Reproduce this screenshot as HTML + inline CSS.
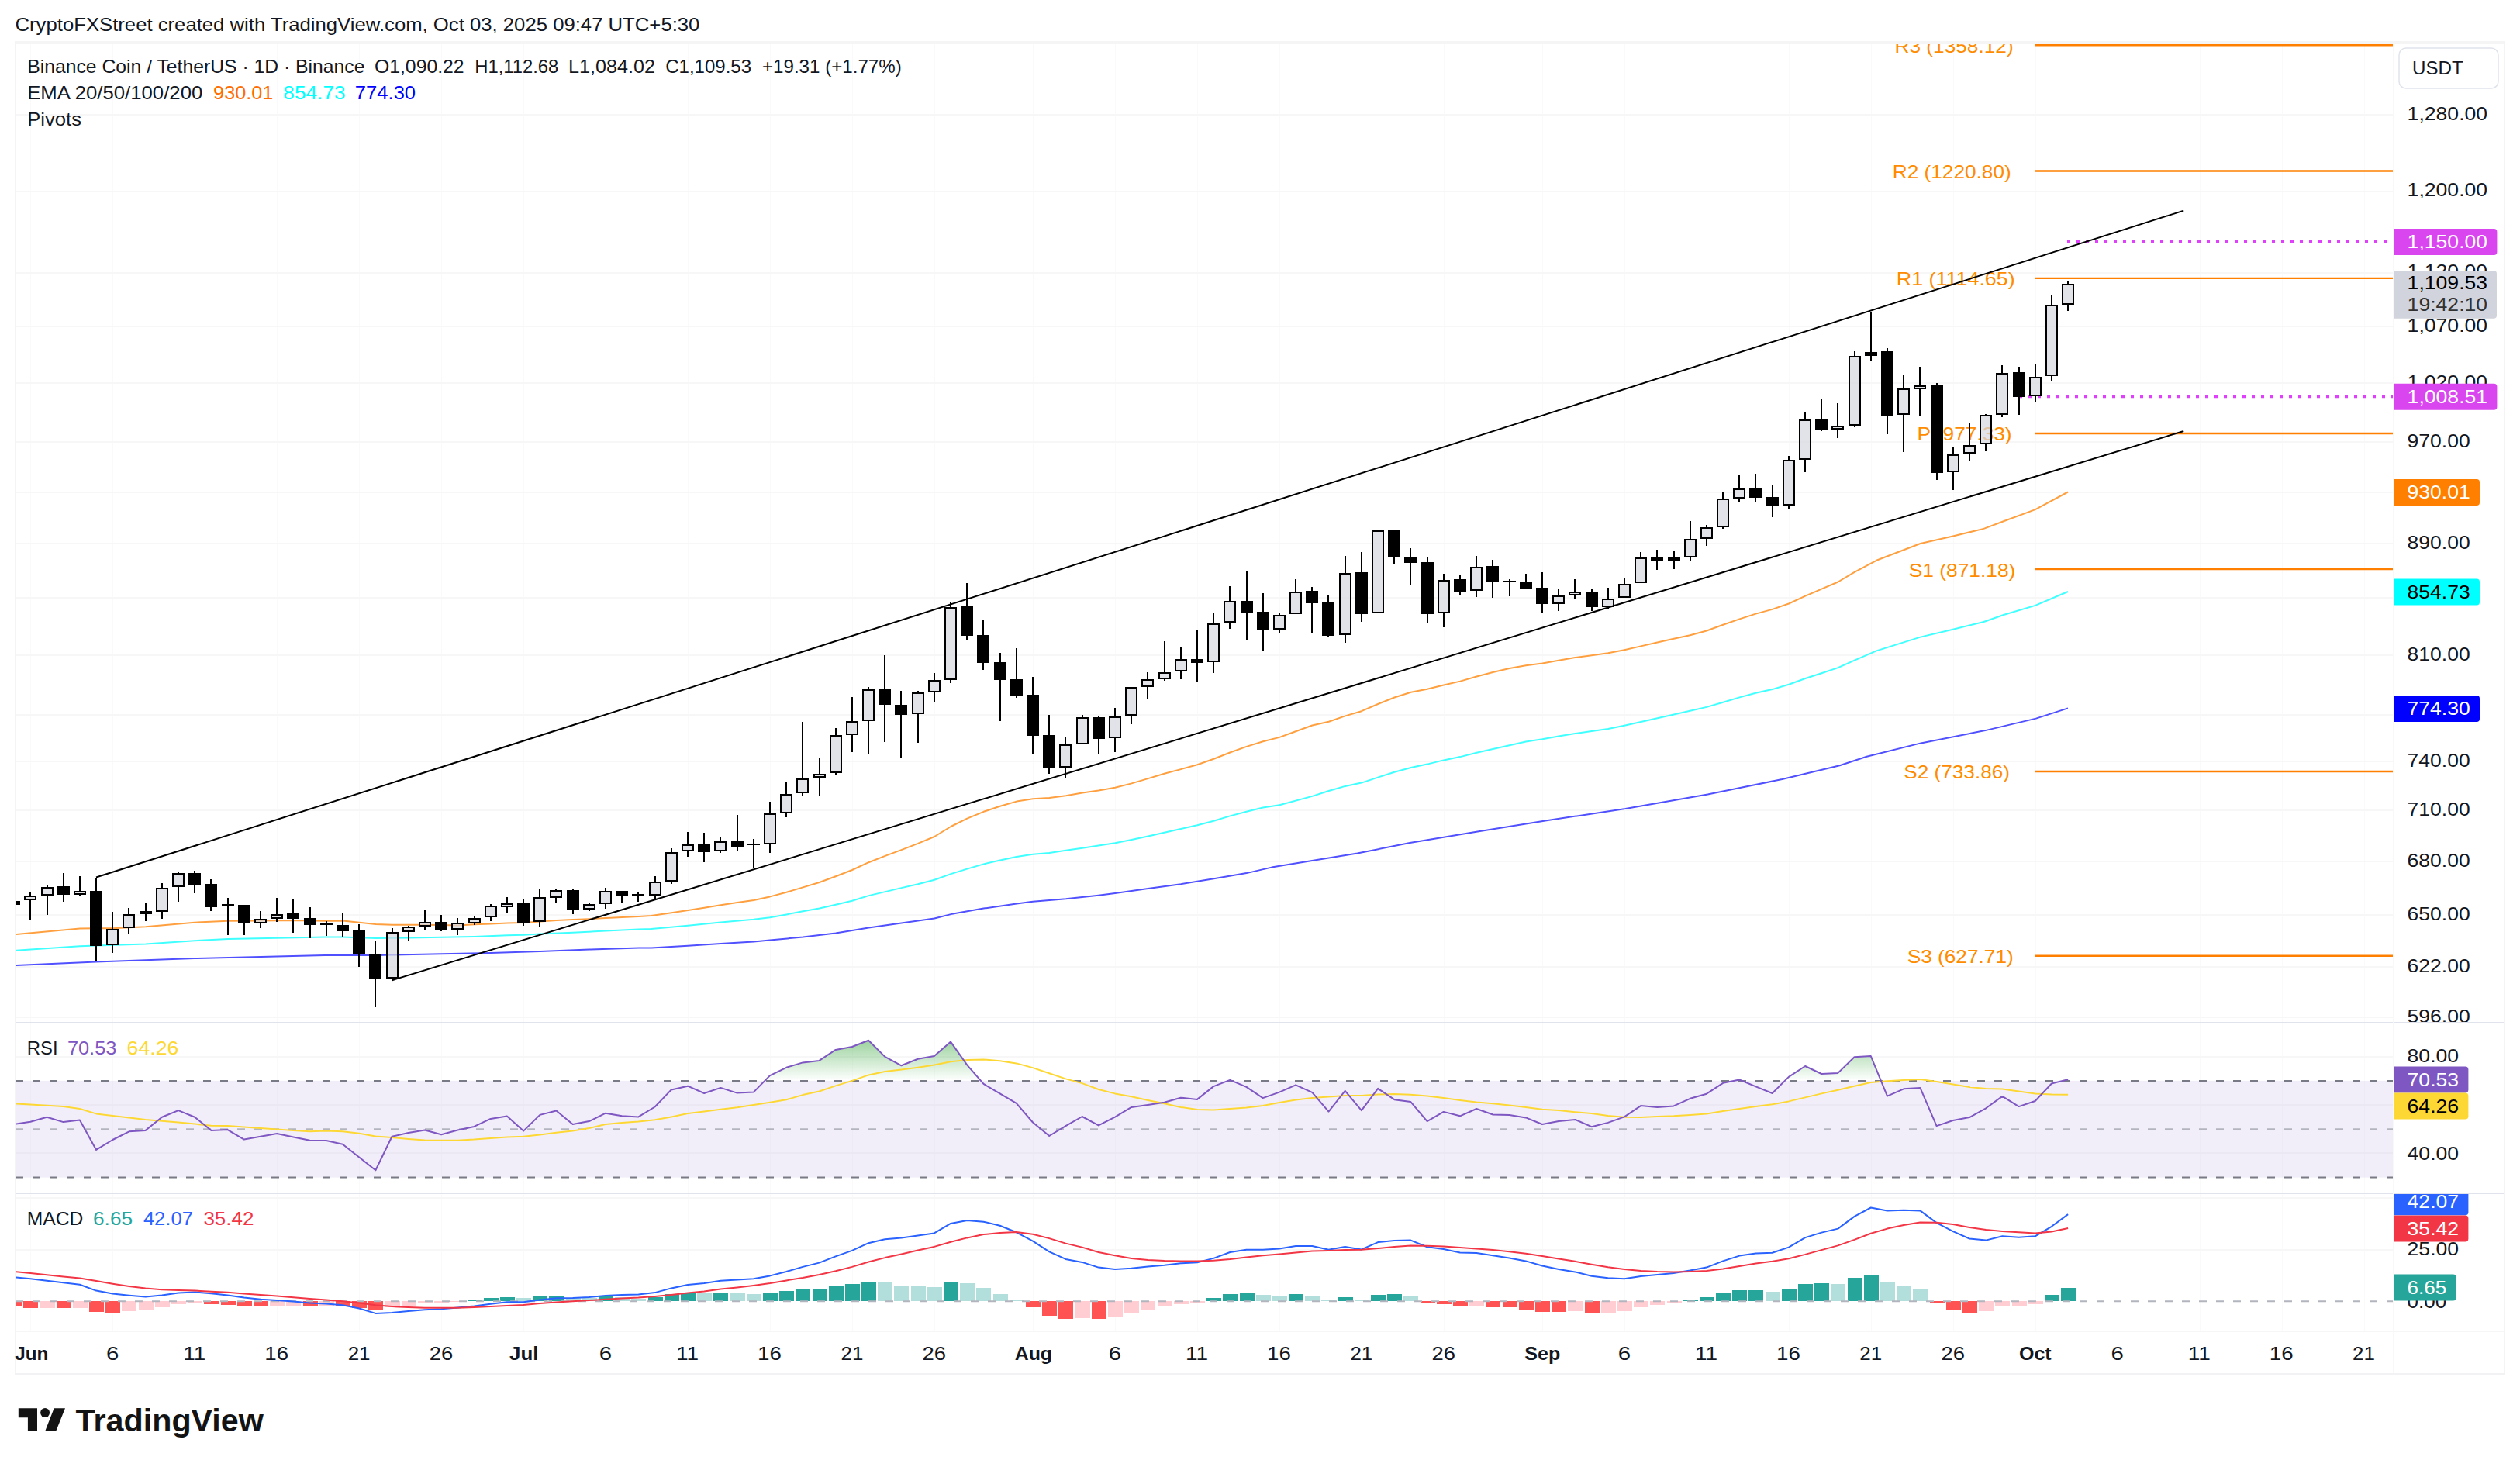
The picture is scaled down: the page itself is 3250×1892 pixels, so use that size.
<!DOCTYPE html>
<html lang="en"><head><meta charset="utf-8"><title>BNBUSDT chart</title>
<style>html,body{margin:0;padding:0;background:#fff}body{width:3250px;height:1892px;overflow:hidden}svg{display:block}text{font-family:"Liberation Sans",sans-serif;white-space:pre}</style>
</head><body>
<svg width="3250" height="1892" viewBox="0 0 3250 1892">
<defs>
<clipPath id="cpMain"><rect x="21" y="54" width="3065" height="1264"/></clipPath>
<clipPath id="cpRsi"><rect x="21" y="1320" width="3065" height="218"/></clipPath>
<clipPath id="cpMacd"><rect x="21" y="1540" width="3065" height="177"/></clipPath>
<clipPath id="cpAxMain"><rect x="3086" y="56" width="144" height="1262"/></clipPath>
<clipPath id="cpAxMacd"><rect x="3086" y="1540" width="144" height="177"/></clipPath>
<linearGradient id="gOB" gradientUnits="userSpaceOnUse" x1="0" y1="1300" x2="0" y2="1393.9"><stop offset="0" stop-color="#4caf50" stop-opacity="1"/><stop offset="1" stop-color="#4caf50" stop-opacity="0"/></linearGradient>
<clipPath id="cpOB"><rect x="21" y="1320" width="3065" height="73.9"/></clipPath>
</defs>
<rect width="3250" height="1892" fill="#fff"/>
<text x="19.50" y="40.2" font-size="23.4" fill="#131722" textLength="882.90" lengthAdjust="spacingAndGlyphs">CryptoFXStreet created with TradingView.com, Oct 03, 2025 09:47 UTC+5:30</text>
<g stroke="#fafafb" stroke-width="1" shape-rendering="crispEdges">
<line x1="39" y1="56" x2="39" y2="1717"/>
<line x1="145" y1="56" x2="145" y2="1717"/>
<line x1="251" y1="56" x2="251" y2="1717"/>
<line x1="357" y1="56" x2="357" y2="1717"/>
<line x1="463" y1="56" x2="463" y2="1717"/>
<line x1="569" y1="56" x2="569" y2="1717"/>
<line x1="675" y1="56" x2="675" y2="1717"/>
<line x1="781" y1="56" x2="781" y2="1717"/>
<line x1="887" y1="56" x2="887" y2="1717"/>
<line x1="993" y1="56" x2="993" y2="1717"/>
<line x1="1099" y1="56" x2="1099" y2="1717"/>
<line x1="1205" y1="56" x2="1205" y2="1717"/>
<line x1="1332" y1="56" x2="1332" y2="1717"/>
<line x1="1438" y1="56" x2="1438" y2="1717"/>
<line x1="1544" y1="56" x2="1544" y2="1717"/>
<line x1="1650" y1="56" x2="1650" y2="1717"/>
<line x1="1756" y1="56" x2="1756" y2="1717"/>
<line x1="1862" y1="56" x2="1862" y2="1717"/>
<line x1="1989" y1="56" x2="1989" y2="1717"/>
<line x1="2095" y1="56" x2="2095" y2="1717"/>
<line x1="2201" y1="56" x2="2201" y2="1717"/>
<line x1="2307" y1="56" x2="2307" y2="1717"/>
<line x1="2413" y1="56" x2="2413" y2="1717"/>
<line x1="2519" y1="56" x2="2519" y2="1717"/>
<line x1="2625" y1="56" x2="2625" y2="1717"/>
<line x1="2731" y1="56" x2="2731" y2="1717"/>
<line x1="2837" y1="56" x2="2837" y2="1717"/>
<line x1="2943" y1="56" x2="2943" y2="1717"/>
<line x1="3049" y1="56" x2="3049" y2="1717"/>
</g>
<g stroke="#f7f7f8" stroke-width="2" shape-rendering="crispEdges">
<line x1="21" y1="148" x2="3086" y2="148"/>
<line x1="21" y1="247" x2="3086" y2="247"/>
<line x1="21" y1="352" x2="3086" y2="352"/>
<line x1="21" y1="421" x2="3086" y2="421"/>
<line x1="21" y1="494" x2="3086" y2="494"/>
<line x1="21" y1="570" x2="3086" y2="570"/>
<line x1="21" y1="635" x2="3086" y2="635"/>
<line x1="21" y1="701" x2="3086" y2="701"/>
<line x1="21" y1="771" x2="3086" y2="771"/>
<line x1="21" y1="845" x2="3086" y2="845"/>
<line x1="21" y1="922" x2="3086" y2="922"/>
<line x1="21" y1="982" x2="3086" y2="982"/>
<line x1="21" y1="1045" x2="3086" y2="1045"/>
<line x1="21" y1="1111" x2="3086" y2="1111"/>
<line x1="21" y1="1180" x2="3086" y2="1180"/>
<line x1="21" y1="1247" x2="3086" y2="1247"/>
<line x1="21" y1="1312" x2="3086" y2="1312"/>
<line x1="21" y1="1363" x2="3086" y2="1363"/>
<line x1="21" y1="1425" x2="3086" y2="1425"/>
<line x1="21" y1="1487" x2="3086" y2="1487"/>
<line x1="21" y1="1545" x2="3086" y2="1545"/>
<line x1="21" y1="1612" x2="3086" y2="1612"/>
</g>
<g clip-path="url(#cpRsi)">
<rect x="21" y="1393.9" width="3065" height="124.7" fill="#7e57c2" fill-opacity="0.1"/>
<g stroke="#ebe8f3" stroke-width="2">
<line x1="21" y1="1425" x2="3086" y2="1425"/>
<line x1="21" y1="1487" x2="3086" y2="1487"/>
</g>
<line x1="21" y1="1393.9" x2="3086" y2="1393.9" stroke="#787b86" stroke-width="2" stroke-dasharray="10 12" stroke-dashoffset="1"/>
<line x1="21" y1="1456.2" x2="3086" y2="1456.2" stroke="#b2b5be" stroke-width="2" stroke-dasharray="10 12" stroke-dashoffset="1"/>
<line x1="21" y1="1518.6" x2="3086" y2="1518.6" stroke="#787b86" stroke-width="2" stroke-dasharray="10 12" stroke-dashoffset="1"/>
<path d="M18.1,1393.9 L18.1,1450.0 L39.3,1446.8 L60.5,1440.7 L81.7,1447.1 L102.9,1444.6 L124.1,1482.9 L145.3,1470.0 L166.5,1459.3 L187.7,1457.9 L208.9,1440.7 L230.0,1432.1 L251.2,1440.7 L272.4,1457.9 L293.6,1457.1 L314.8,1469.6 L336.0,1465.7 L357.2,1462.1 L378.4,1466.4 L399.6,1470.7 L420.8,1471.1 L442.0,1475.7 L463.2,1492.5 L484.4,1509.3 L505.5,1465.7 L526.7,1461.1 L547.9,1457.5 L569.1,1463.2 L590.3,1457.5 L611.5,1452.9 L632.7,1442.9 L653.9,1439.6 L675.1,1458.6 L696.3,1437.9 L717.5,1432.5 L738.7,1450.0 L759.8,1446.1 L781.0,1435.7 L802.2,1439.3 L823.4,1440.4 L844.6,1427.5 L865.8,1405.4 L887.0,1400.7 L908.2,1410.0 L929.4,1402.9 L950.6,1409.6 L971.8,1408.6 L993.0,1387.1 L1014.2,1376.8 L1035.3,1370.4 L1056.5,1367.9 L1077.7,1353.9 L1098.9,1350.0 L1120.1,1341.8 L1141.3,1362.9 L1162.5,1374.3 L1183.7,1365.7 L1204.9,1362.1 L1226.1,1343.6 L1247.3,1373.6 L1268.5,1397.9 L1289.6,1410.4 L1310.8,1422.9 L1332.0,1447.5 L1353.2,1465.0 L1374.4,1452.1 L1395.6,1440.0 L1416.8,1451.4 L1438.0,1440.7 L1459.2,1427.9 L1480.4,1425.0 L1501.6,1421.8 L1522.8,1415.7 L1544.0,1417.9 L1565.1,1401.1 L1586.3,1392.9 L1607.5,1401.8 L1628.7,1416.1 L1649.9,1408.6 L1671.1,1399.3 L1692.3,1408.9 L1713.5,1433.6 L1734.7,1406.8 L1755.9,1432.1 L1777.1,1403.9 L1798.3,1418.2 L1819.4,1421.1 L1840.6,1446.1 L1861.8,1433.9 L1883.0,1439.3 L1904.2,1430.0 L1925.4,1437.5 L1946.6,1437.9 L1967.8,1441.4 L1989.0,1450.0 L2010.2,1446.1 L2031.4,1443.9 L2052.6,1453.2 L2073.8,1447.9 L2094.9,1440.4 L2116.1,1426.1 L2137.3,1427.9 L2158.5,1426.4 L2179.7,1416.8 L2200.9,1410.7 L2222.1,1396.8 L2243.3,1392.5 L2264.5,1401.4 L2285.7,1410.0 L2306.9,1388.9 L2328.1,1375.0 L2349.2,1385.0 L2370.4,1383.9 L2391.6,1363.2 L2412.8,1362.1 L2434.0,1413.6 L2455.2,1404.3 L2476.4,1402.9 L2497.6,1452.1 L2518.8,1445.0 L2540.0,1441.1 L2561.2,1429.3 L2582.4,1413.9 L2603.6,1427.1 L2624.7,1420.0 L2645.9,1397.5 L2667.1,1392.1 L2667.1,1393.9 Z" fill="url(#gOB)" clip-path="url(#cpOB)"/>
<polyline fill="none" stroke="#fdd835" stroke-width="2" stroke-linejoin="round" points="18.1,1423.2 39.3,1424.6 60.5,1425.7 81.7,1427.1 102.9,1430.0 124.1,1436.4 145.3,1438.9 166.5,1441.4 187.7,1443.9 208.9,1445.7 230.0,1447.5 251.2,1449.6 272.4,1451.8 293.6,1452.1 314.8,1453.6 336.0,1455.0 357.2,1456.4 378.4,1457.9 399.6,1459.3 420.8,1458.6 442.0,1459.3 463.2,1461.8 484.4,1465.4 505.5,1467.1 526.7,1468.9 547.9,1470.4 569.1,1470.7 590.3,1470.7 611.5,1469.6 632.7,1467.9 653.9,1466.4 675.1,1465.7 696.3,1463.6 717.5,1460.7 738.7,1458.6 759.8,1455.0 781.0,1450.0 802.2,1447.9 823.4,1446.4 844.6,1444.3 865.8,1440.4 887.0,1436.1 908.2,1433.6 929.4,1430.7 950.6,1428.2 971.8,1425.0 993.0,1421.8 1014.2,1418.2 1035.3,1412.1 1056.5,1407.5 1077.7,1400.4 1098.9,1393.9 1120.1,1386.4 1141.3,1382.1 1162.5,1379.6 1183.7,1376.8 1204.9,1373.6 1226.1,1369.3 1247.3,1367.1 1268.5,1366.4 1289.6,1368.2 1310.8,1371.4 1332.0,1377.1 1353.2,1384.3 1374.4,1391.4 1395.6,1397.1 1416.8,1405.0 1438.0,1410.4 1459.2,1414.3 1480.4,1418.9 1501.6,1423.2 1522.8,1427.9 1544.0,1431.1 1565.1,1431.4 1586.3,1430.0 1607.5,1428.6 1628.7,1426.1 1649.9,1422.1 1671.1,1418.6 1692.3,1416.1 1713.5,1414.6 1734.7,1412.9 1755.9,1412.9 1777.1,1411.4 1798.3,1411.1 1819.4,1411.8 1840.6,1413.6 1861.8,1416.1 1883.0,1418.9 1904.2,1421.4 1925.4,1423.2 1946.6,1425.4 1967.8,1427.9 1989.0,1430.7 2010.2,1432.1 2031.4,1434.3 2052.6,1436.1 2073.8,1438.9 2094.9,1440.7 2116.1,1441.1 2137.3,1440.0 2158.5,1439.3 2179.7,1437.9 2200.9,1436.4 2222.1,1432.9 2243.3,1430.0 2264.5,1427.1 2285.7,1424.3 2306.9,1420.4 2328.1,1415.4 2349.2,1410.4 2370.4,1405.7 2391.6,1400.7 2412.8,1396.1 2434.0,1394.3 2455.2,1392.9 2476.4,1392.1 2497.6,1395.0 2518.8,1398.6 2540.0,1402.1 2561.2,1403.9 2582.4,1404.6 2603.6,1407.5 2624.7,1410.4 2645.9,1411.4 2667.1,1411.8"/>
<polyline fill="none" stroke="#7e57c2" stroke-width="2" stroke-linejoin="round" points="18.1,1450.0 39.3,1446.8 60.5,1440.7 81.7,1447.1 102.9,1444.6 124.1,1482.9 145.3,1470.0 166.5,1459.3 187.7,1457.9 208.9,1440.7 230.0,1432.1 251.2,1440.7 272.4,1457.9 293.6,1457.1 314.8,1469.6 336.0,1465.7 357.2,1462.1 378.4,1466.4 399.6,1470.7 420.8,1471.1 442.0,1475.7 463.2,1492.5 484.4,1509.3 505.5,1465.7 526.7,1461.1 547.9,1457.5 569.1,1463.2 590.3,1457.5 611.5,1452.9 632.7,1442.9 653.9,1439.6 675.1,1458.6 696.3,1437.9 717.5,1432.5 738.7,1450.0 759.8,1446.1 781.0,1435.7 802.2,1439.3 823.4,1440.4 844.6,1427.5 865.8,1405.4 887.0,1400.7 908.2,1410.0 929.4,1402.9 950.6,1409.6 971.8,1408.6 993.0,1387.1 1014.2,1376.8 1035.3,1370.4 1056.5,1367.9 1077.7,1353.9 1098.9,1350.0 1120.1,1341.8 1141.3,1362.9 1162.5,1374.3 1183.7,1365.7 1204.9,1362.1 1226.1,1343.6 1247.3,1373.6 1268.5,1397.9 1289.6,1410.4 1310.8,1422.9 1332.0,1447.5 1353.2,1465.0 1374.4,1452.1 1395.6,1440.0 1416.8,1451.4 1438.0,1440.7 1459.2,1427.9 1480.4,1425.0 1501.6,1421.8 1522.8,1415.7 1544.0,1417.9 1565.1,1401.1 1586.3,1392.9 1607.5,1401.8 1628.7,1416.1 1649.9,1408.6 1671.1,1399.3 1692.3,1408.9 1713.5,1433.6 1734.7,1406.8 1755.9,1432.1 1777.1,1403.9 1798.3,1418.2 1819.4,1421.1 1840.6,1446.1 1861.8,1433.9 1883.0,1439.3 1904.2,1430.0 1925.4,1437.5 1946.6,1437.9 1967.8,1441.4 1989.0,1450.0 2010.2,1446.1 2031.4,1443.9 2052.6,1453.2 2073.8,1447.9 2094.9,1440.4 2116.1,1426.1 2137.3,1427.9 2158.5,1426.4 2179.7,1416.8 2200.9,1410.7 2222.1,1396.8 2243.3,1392.5 2264.5,1401.4 2285.7,1410.0 2306.9,1388.9 2328.1,1375.0 2349.2,1385.0 2370.4,1383.9 2391.6,1363.2 2412.8,1362.1 2434.0,1413.6 2455.2,1404.3 2476.4,1402.9 2497.6,1452.1 2518.8,1445.0 2540.0,1441.1 2561.2,1429.3 2582.4,1413.9 2603.6,1427.1 2624.7,1420.0 2645.9,1397.5 2667.1,1392.1"/>
</g>
<g clip-path="url(#cpMacd)">
<g shape-rendering="crispEdges">
<rect x="9" y="1678.2" width="19" height="6.4" fill="#ff5252"/>
<rect x="30" y="1678.2" width="19" height="8.6" fill="#ff5252"/>
<rect x="52" y="1678.2" width="19" height="8.6" fill="#ffcdd2"/>
<rect x="73" y="1678.2" width="19" height="8.6" fill="#ff5252"/>
<rect x="94" y="1678.2" width="19" height="8.6" fill="#ffcdd2"/>
<rect x="115" y="1678.2" width="19" height="13.6" fill="#ff5252"/>
<rect x="136" y="1678.2" width="19" height="14.7" fill="#ff5252"/>
<rect x="157" y="1678.2" width="19" height="13.2" fill="#ffcdd2"/>
<rect x="179" y="1678.2" width="19" height="11.8" fill="#ffcdd2"/>
<rect x="200" y="1678.2" width="19" height="7.9" fill="#ffcdd2"/>
<rect x="221" y="1678.2" width="19" height="3.6" fill="#ffcdd2"/>
<rect x="242" y="1678.2" width="19" height="2.2" fill="#ffcdd2"/>
<rect x="263" y="1678.2" width="19" height="3.6" fill="#ff5252"/>
<rect x="285" y="1678.2" width="19" height="4.7" fill="#ff5252"/>
<rect x="306" y="1678.2" width="19" height="6.4" fill="#ff5252"/>
<rect x="327" y="1678.2" width="19" height="6.4" fill="#ff5252"/>
<rect x="348" y="1678.2" width="19" height="6.1" fill="#ffcdd2"/>
<rect x="369" y="1678.2" width="19" height="6.1" fill="#ffcdd2"/>
<rect x="391" y="1678.2" width="19" height="6.4" fill="#ff5252"/>
<rect x="412" y="1678.2" width="19" height="6.1" fill="#ffcdd2"/>
<rect x="433" y="1678.2" width="19" height="6.4" fill="#ff5252"/>
<rect x="454" y="1678.2" width="19" height="8.9" fill="#ff5252"/>
<rect x="475" y="1678.2" width="19" height="11.4" fill="#ff5252"/>
<rect x="497" y="1678.2" width="19" height="8.2" fill="#ffcdd2"/>
<rect x="518" y="1678.2" width="19" height="5.7" fill="#ffcdd2"/>
<rect x="539" y="1678.2" width="19" height="2.9" fill="#ffcdd2"/>
<rect x="560" y="1678.2" width="19" height="1.8" fill="#ffcdd2"/>
<rect x="581" y="1678.2" width="19" height="1.1" fill="#ffcdd2"/>
<rect x="603" y="1676.1" width="19" height="2.1" fill="#26a69a"/>
<rect x="624" y="1674.3" width="19" height="3.9" fill="#26a69a"/>
<rect x="645" y="1673.2" width="19" height="5.0" fill="#26a69a"/>
<rect x="666" y="1674.3" width="19" height="3.9" fill="#b2dfdb"/>
<rect x="687" y="1672.1" width="19" height="6.1" fill="#26a69a"/>
<rect x="708" y="1671.1" width="19" height="7.1" fill="#26a69a"/>
<rect x="730" y="1673.6" width="19" height="4.6" fill="#b2dfdb"/>
<rect x="751" y="1673.9" width="19" height="4.3" fill="#b2dfdb"/>
<rect x="772" y="1671.4" width="19" height="6.8" fill="#26a69a"/>
<rect x="793" y="1673.2" width="19" height="5.0" fill="#b2dfdb"/>
<rect x="814" y="1675.0" width="19" height="3.2" fill="#b2dfdb"/>
<rect x="836" y="1672.5" width="19" height="5.7" fill="#26a69a"/>
<rect x="857" y="1669.3" width="19" height="8.9" fill="#26a69a"/>
<rect x="878" y="1667.5" width="19" height="10.7" fill="#26a69a"/>
<rect x="899" y="1667.5" width="19" height="10.7" fill="#b2dfdb"/>
<rect x="920" y="1667.1" width="19" height="11.1" fill="#26a69a"/>
<rect x="942" y="1668.2" width="19" height="10.0" fill="#b2dfdb"/>
<rect x="963" y="1669.3" width="19" height="8.9" fill="#b2dfdb"/>
<rect x="984" y="1667.1" width="19" height="11.1" fill="#26a69a"/>
<rect x="1005" y="1665.4" width="19" height="12.8" fill="#26a69a"/>
<rect x="1026" y="1663.2" width="19" height="15.0" fill="#26a69a"/>
<rect x="1048" y="1662.1" width="19" height="16.1" fill="#26a69a"/>
<rect x="1069" y="1658.2" width="19" height="20.0" fill="#26a69a"/>
<rect x="1090" y="1656.1" width="19" height="22.1" fill="#26a69a"/>
<rect x="1111" y="1653.2" width="19" height="25.0" fill="#26a69a"/>
<rect x="1132" y="1654.3" width="19" height="23.9" fill="#b2dfdb"/>
<rect x="1153" y="1658.2" width="19" height="20.0" fill="#b2dfdb"/>
<rect x="1175" y="1659.3" width="19" height="18.9" fill="#b2dfdb"/>
<rect x="1196" y="1660.4" width="19" height="17.8" fill="#b2dfdb"/>
<rect x="1217" y="1654.3" width="19" height="23.9" fill="#26a69a"/>
<rect x="1238" y="1655.4" width="19" height="22.8" fill="#b2dfdb"/>
<rect x="1259" y="1661.4" width="19" height="16.8" fill="#b2dfdb"/>
<rect x="1281" y="1668.6" width="19" height="9.6" fill="#b2dfdb"/>
<rect x="1302" y="1676.1" width="19" height="2.1" fill="#b2dfdb"/>
<rect x="1323" y="1678.2" width="19" height="8.2" fill="#ff5252"/>
<rect x="1344" y="1678.2" width="19" height="18.6" fill="#ff5252"/>
<rect x="1365" y="1678.2" width="19" height="22.5" fill="#ff5252"/>
<rect x="1387" y="1678.2" width="19" height="21.4" fill="#ffcdd2"/>
<rect x="1408" y="1678.2" width="19" height="22.5" fill="#ff5252"/>
<rect x="1429" y="1678.2" width="19" height="20.4" fill="#ffcdd2"/>
<rect x="1450" y="1678.2" width="19" height="14.7" fill="#ffcdd2"/>
<rect x="1471" y="1678.2" width="19" height="10.7" fill="#ffcdd2"/>
<rect x="1493" y="1678.2" width="19" height="6.4" fill="#ffcdd2"/>
<rect x="1514" y="1678.2" width="19" height="3.6" fill="#ffcdd2"/>
<rect x="1535" y="1678.2" width="19" height="1.8" fill="#ffcdd2"/>
<rect x="1556" y="1674.3" width="19" height="3.9" fill="#26a69a"/>
<rect x="1577" y="1669.3" width="19" height="8.9" fill="#26a69a"/>
<rect x="1599" y="1668.2" width="19" height="10.0" fill="#26a69a"/>
<rect x="1620" y="1670.4" width="19" height="7.8" fill="#b2dfdb"/>
<rect x="1641" y="1671.4" width="19" height="6.8" fill="#b2dfdb"/>
<rect x="1662" y="1669.3" width="19" height="8.9" fill="#26a69a"/>
<rect x="1683" y="1671.4" width="19" height="6.8" fill="#b2dfdb"/>
<rect x="1704" y="1677.1" width="19" height="1.1" fill="#b2dfdb"/>
<rect x="1726" y="1673.2" width="19" height="5.0" fill="#26a69a"/>
<rect x="1747" y="1677.1" width="19" height="1.1" fill="#b2dfdb"/>
<rect x="1768" y="1670.4" width="19" height="7.8" fill="#26a69a"/>
<rect x="1789" y="1669.3" width="19" height="8.9" fill="#26a69a"/>
<rect x="1810" y="1671.1" width="19" height="7.1" fill="#b2dfdb"/>
<rect x="1832" y="1678.2" width="19" height="1.4" fill="#ff5252"/>
<rect x="1853" y="1678.2" width="19" height="3.6" fill="#ff5252"/>
<rect x="1874" y="1678.2" width="19" height="6.4" fill="#ff5252"/>
<rect x="1895" y="1678.2" width="19" height="5.4" fill="#ffcdd2"/>
<rect x="1916" y="1678.2" width="19" height="7.5" fill="#ff5252"/>
<rect x="1938" y="1678.2" width="19" height="8.2" fill="#ff5252"/>
<rect x="1959" y="1678.2" width="19" height="10.4" fill="#ff5252"/>
<rect x="1980" y="1678.2" width="19" height="13.6" fill="#ff5252"/>
<rect x="2001" y="1678.2" width="19" height="13.6" fill="#ff5252"/>
<rect x="2022" y="1678.2" width="19" height="13.2" fill="#ffcdd2"/>
<rect x="2044" y="1678.2" width="19" height="15.4" fill="#ff5252"/>
<rect x="2065" y="1678.2" width="19" height="14.3" fill="#ffcdd2"/>
<rect x="2086" y="1678.2" width="19" height="12.5" fill="#ffcdd2"/>
<rect x="2107" y="1678.2" width="19" height="7.5" fill="#ffcdd2"/>
<rect x="2128" y="1678.2" width="19" height="4.7" fill="#ffcdd2"/>
<rect x="2150" y="1678.2" width="19" height="2.5" fill="#ffcdd2"/>
<rect x="2171" y="1676.1" width="19" height="2.1" fill="#26a69a"/>
<rect x="2192" y="1673.2" width="19" height="5.0" fill="#26a69a"/>
<rect x="2213" y="1668.2" width="19" height="10.0" fill="#26a69a"/>
<rect x="2234" y="1664.3" width="19" height="13.9" fill="#26a69a"/>
<rect x="2255" y="1664.3" width="19" height="13.9" fill="#26a69a"/>
<rect x="2277" y="1666.4" width="19" height="11.8" fill="#b2dfdb"/>
<rect x="2298" y="1663.2" width="19" height="15.0" fill="#26a69a"/>
<rect x="2319" y="1656.1" width="19" height="22.1" fill="#26a69a"/>
<rect x="2340" y="1655.0" width="19" height="23.2" fill="#26a69a"/>
<rect x="2361" y="1656.1" width="19" height="22.1" fill="#b2dfdb"/>
<rect x="2383" y="1648.2" width="19" height="30.0" fill="#26a69a"/>
<rect x="2404" y="1644.3" width="19" height="33.9" fill="#26a69a"/>
<rect x="2425" y="1654.3" width="19" height="23.9" fill="#b2dfdb"/>
<rect x="2446" y="1657.9" width="19" height="20.3" fill="#b2dfdb"/>
<rect x="2467" y="1662.1" width="19" height="16.1" fill="#b2dfdb"/>
<rect x="2489" y="1678.2" width="19" height="1.4" fill="#ff5252"/>
<rect x="2510" y="1678.2" width="19" height="10.4" fill="#ff5252"/>
<rect x="2531" y="1678.2" width="19" height="14.3" fill="#ff5252"/>
<rect x="2552" y="1678.2" width="19" height="13.2" fill="#ffcdd2"/>
<rect x="2573" y="1678.2" width="19" height="6.4" fill="#ffcdd2"/>
<rect x="2595" y="1678.2" width="19" height="6.4" fill="#ffcdd2"/>
<rect x="2616" y="1678.2" width="19" height="3.6" fill="#ffcdd2"/>
<rect x="2637" y="1670.4" width="19" height="7.8" fill="#26a69a"/>
<rect x="2658" y="1660.5" width="19" height="17.7" fill="#26a69a"/>
</g>
<line x1="21" y1="1678.2" x2="3086" y2="1678.2" stroke="#b2b5be" stroke-width="2" stroke-dasharray="10 12" stroke-dashoffset="1"/>
<polyline fill="none" stroke="#2962ff" stroke-width="2" stroke-linejoin="round" points="18.1,1647.1 39.3,1649.3 60.5,1651.8 81.7,1654.3 102.9,1656.8 124.1,1664.6 145.3,1668.6 166.5,1670.7 187.7,1672.5 208.9,1670.4 230.0,1667.5 251.2,1666.4 272.4,1668.2 293.6,1670.4 314.8,1673.6 336.0,1675.7 357.2,1677.1 378.4,1678.6 399.6,1680.4 420.8,1681.4 442.0,1683.2 463.2,1687.5 484.4,1693.9 505.5,1692.9 526.7,1691.1 547.9,1689.3 569.1,1688.2 590.3,1686.4 611.5,1684.6 632.7,1681.8 653.9,1679.3 675.1,1679.3 696.3,1676.4 717.5,1674.3 738.7,1673.9 759.8,1672.9 781.0,1671.1 802.2,1670.0 823.4,1669.6 844.6,1667.1 865.8,1661.4 887.0,1657.1 908.2,1655.0 929.4,1651.8 950.6,1650.4 971.8,1649.3 993.0,1645.4 1014.2,1640.0 1035.3,1633.9 1056.5,1628.6 1077.7,1620.4 1098.9,1612.9 1120.1,1603.2 1141.3,1598.2 1162.5,1596.4 1183.7,1593.6 1204.9,1590.4 1226.1,1577.9 1247.3,1573.9 1268.5,1575.7 1289.6,1580.7 1310.8,1589.3 1332.0,1600.7 1353.2,1614.3 1374.4,1623.9 1395.6,1627.9 1416.8,1634.6 1438.0,1637.1 1459.2,1635.7 1480.4,1633.6 1501.6,1631.8 1522.8,1629.3 1544.0,1628.2 1565.1,1622.9 1586.3,1615.0 1607.5,1611.8 1628.7,1611.8 1649.9,1610.4 1671.1,1607.1 1692.3,1607.1 1713.5,1611.8 1734.7,1607.9 1755.9,1611.4 1777.1,1602.1 1798.3,1600.0 1819.4,1599.6 1840.6,1608.2 1861.8,1611.1 1883.0,1615.4 1904.2,1616.1 1925.4,1619.3 1946.6,1622.5 1967.8,1626.4 1989.0,1632.5 2010.2,1637.1 2031.4,1640.4 2052.6,1645.7 2073.8,1648.2 2094.9,1649.3 2116.1,1646.1 2137.3,1643.9 2158.5,1642.1 2179.7,1638.6 2200.9,1634.6 2222.1,1626.4 2243.3,1619.6 2264.5,1616.4 2285.7,1615.7 2306.9,1608.6 2328.1,1596.1 2349.2,1589.6 2370.4,1584.6 2391.6,1568.9 2412.8,1557.5 2434.0,1561.4 2455.2,1560.7 2476.4,1561.4 2497.6,1577.1 2518.8,1588.2 2540.0,1597.5 2561.2,1599.6 2582.4,1594.3 2603.6,1595.7 2624.7,1594.3 2645.9,1581.8 2667.1,1566.1"/>
<polyline fill="none" stroke="#f23645" stroke-width="2" stroke-linejoin="round" points="18.1,1640.0 39.3,1642.1 60.5,1644.3 81.7,1646.4 102.9,1648.6 124.1,1652.1 145.3,1655.7 166.5,1658.9 187.7,1661.4 208.9,1663.2 230.0,1663.9 251.2,1664.6 272.4,1665.7 293.6,1666.8 314.8,1668.6 336.0,1670.0 357.2,1671.4 378.4,1673.2 399.6,1675.0 420.8,1676.4 442.0,1678.2 463.2,1680.4 484.4,1683.2 505.5,1685.0 526.7,1686.1 547.9,1686.8 569.1,1686.8 590.3,1686.8 611.5,1686.1 632.7,1685.0 653.9,1683.9 675.1,1682.9 696.3,1681.1 717.5,1679.6 738.7,1678.2 759.8,1677.1 781.0,1675.7 802.2,1674.6 823.4,1673.6 844.6,1672.1 865.8,1670.0 887.0,1667.5 908.2,1665.4 929.4,1662.5 950.6,1660.4 971.8,1657.9 993.0,1655.0 1014.2,1651.4 1035.3,1647.9 1056.5,1643.9 1077.7,1639.3 1098.9,1633.9 1120.1,1627.5 1141.3,1622.1 1162.5,1617.5 1183.7,1612.5 1204.9,1607.9 1226.1,1601.8 1247.3,1596.4 1268.5,1592.1 1289.6,1590.0 1310.8,1588.9 1332.0,1591.8 1353.2,1597.1 1374.4,1603.6 1395.6,1608.6 1416.8,1615.0 1438.0,1619.3 1459.2,1622.9 1480.4,1625.0 1501.6,1626.1 1522.8,1626.4 1544.0,1626.4 1565.1,1625.7 1586.3,1623.9 1607.5,1621.4 1628.7,1619.3 1649.9,1617.5 1671.1,1615.4 1692.3,1613.6 1713.5,1612.9 1734.7,1612.1 1755.9,1611.8 1777.1,1610.0 1798.3,1607.9 1819.4,1606.4 1840.6,1606.8 1861.8,1607.5 1883.0,1608.9 1904.2,1610.4 1925.4,1612.1 1946.6,1614.3 1967.8,1616.8 1989.0,1620.0 2010.2,1623.6 2031.4,1626.8 2052.6,1630.7 2073.8,1634.3 2094.9,1637.1 2116.1,1638.9 2137.3,1640.0 2158.5,1640.4 2179.7,1640.0 2200.9,1638.9 2222.1,1636.4 2243.3,1632.9 2264.5,1629.6 2285.7,1626.8 2306.9,1623.2 2328.1,1617.9 2349.2,1612.1 2370.4,1606.4 2391.6,1598.9 2412.8,1590.7 2434.0,1584.6 2455.2,1580.0 2476.4,1576.4 2497.6,1576.8 2518.8,1578.9 2540.0,1582.9 2561.2,1586.1 2582.4,1587.9 2603.6,1589.3 2624.7,1590.4 2645.9,1588.6 2667.1,1583.9"/>
</g>
<g clip-path="url(#cpMain)">
<g stroke="#ff8000" stroke-width="2.4">
<line x1="2625" y1="58.2" x2="3086" y2="58.2"/>
<line x1="2625" y1="220.5" x2="3086" y2="220.5"/>
<line x1="2625" y1="358.9" x2="3086" y2="358.9"/>
<line x1="2625" y1="559.0" x2="3086" y2="559.0"/>
<line x1="2625" y1="734.0" x2="3086" y2="734.0"/>
<line x1="2625" y1="995.0" x2="3086" y2="995.0"/>
<line x1="2625" y1="1232.8" x2="3086" y2="1232.8"/>
</g>
<text x="2443.55" y="68.0" font-size="23.7" fill="#ff8c00" textLength="153.08" lengthAdjust="spacingAndGlyphs">R3 (1358.12)</text>
<text x="2440.75" y="229.9" font-size="23.7" fill="#ff8c00" textLength="152.98" lengthAdjust="spacingAndGlyphs">R2 (1220.80)</text>
<text x="2445.75" y="367.9" font-size="23.7" fill="#ff8c00" textLength="152.98" lengthAdjust="spacingAndGlyphs">R1 (1114.65)</text>
<text x="2472.45" y="567.9" font-size="23.7" fill="#ff8c00" textLength="122.17" lengthAdjust="spacingAndGlyphs">P (977.33)</text>
<text x="2461.70" y="744.2" font-size="23.7" fill="#ff8c00" textLength="137.63" lengthAdjust="spacingAndGlyphs">S1 (871.18)</text>
<text x="2455.21" y="1003.9" font-size="23.7" fill="#ff8c00" textLength="136.81" lengthAdjust="spacingAndGlyphs">S2 (733.86)</text>
<text x="2459.71" y="1242.0" font-size="23.7" fill="#ff8c00" textLength="137.02" lengthAdjust="spacingAndGlyphs">S3 (627.71)</text>
<polyline fill="none" stroke="#5050ff" stroke-width="2" stroke-linejoin="round" points="20.6,1245.0 124.0,1240.6 250.9,1236.1 356.9,1233.4 419.1,1232.0 484.6,1231.9 505.7,1231.5 569.3,1230.3 632.9,1228.9 696.4,1227.0 760.1,1224.6 823.7,1222.4 840.0,1222.5 887.3,1219.7 929.5,1216.9 972.1,1214.4 993.0,1212.5 1035.6,1208.5 1077.8,1203.4 1099.0,1200.0 1120.3,1196.6 1162.5,1190.5 1205.1,1184.5 1226.3,1179.1 1268.6,1171.6 1311.1,1165.4 1332.1,1162.8 1374.6,1159.3 1416.8,1154.8 1438.1,1152.1 1480.6,1146.1 1522.9,1140.2 1565.4,1133.3 1607.6,1126.1 1640.0,1118.6 1750.6,1100.6 1818.3,1086.9 1905.6,1072.6 1992.9,1058.5 2096.3,1043.0 2202.4,1024.5 2298.4,1005.0 2372.6,987.3 2407.5,975.8 2477.4,958.4 2560.3,942.1 2625.8,926.6 2667.0,913.4"/>
<polyline fill="none" stroke="#40ffff" stroke-width="2" stroke-linejoin="round" points="20.6,1225.8 103.0,1220.3 124.0,1219.5 187.9,1217.4 250.9,1213.2 294.0,1211.0 356.9,1209.7 419.1,1208.6 442.2,1208.6 463.3,1209.2 484.6,1210.0 505.7,1209.7 526.9,1209.4 569.3,1208.8 611.7,1207.9 654.2,1206.3 675.3,1205.7 696.4,1204.6 738.8,1202.7 781.3,1200.5 823.7,1198.4 840.0,1198.0 887.3,1193.7 929.5,1189.5 972.1,1185.8 993.0,1183.3 1014.3,1179.4 1035.6,1175.3 1056.8,1171.4 1077.8,1166.7 1099.0,1161.7 1120.3,1155.1 1141.6,1150.1 1162.5,1145.1 1183.8,1140.3 1205.1,1134.7 1226.3,1127.1 1247.3,1120.6 1268.6,1114.4 1289.8,1109.5 1311.1,1104.9 1332.1,1101.7 1353.3,1099.9 1374.6,1096.8 1395.9,1093.7 1416.8,1090.5 1438.1,1087.2 1459.4,1083.1 1480.6,1078.4 1501.6,1073.7 1522.9,1068.9 1544.1,1064.3 1565.4,1058.7 1586.3,1052.4 1607.6,1046.7 1628.9,1041.5 1650.2,1038.2 1692.4,1026.9 1713.7,1020.0 1734.9,1013.9 1755.9,1009.6 1777.1,1002.6 1798.4,995.7 1819.7,990.0 1840.6,985.6 1861.9,980.4 1883.2,976.1 1904.4,970.8 1925.4,966.0 1946.7,961.3 1967.9,956.6 1989.2,953.3 2010.2,949.5 2031.4,946.1 2052.7,942.9 2074.0,939.9 2094.9,935.8 2116.2,931.1 2137.5,926.3 2158.7,921.6 2179.7,916.8 2201.0,911.9 2222.2,905.7 2243.5,899.4 2264.4,893.8 2285.7,889.1 2307.0,882.7 2328.3,875.0 2349.2,868.2 2370.5,861.1 2391.7,851.6 2420.0,839.4 2476.7,821.6 2517.6,812.0 2558.4,802.0 2584.0,793.0 2624.9,780.9 2667.0,763.0"/>
<polyline fill="none" stroke="#ffa040" stroke-width="2" stroke-linejoin="round" points="20.6,1205.0 103.0,1197.4 124.0,1197.3 144.9,1197.2 187.9,1195.2 250.9,1189.7 294.0,1187.8 336.0,1187.4 378.0,1187.0 420.8,1187.8 442.2,1187.6 463.3,1189.7 484.6,1192.0 505.7,1192.7 526.9,1192.8 548.2,1192.7 569.3,1193.1 590.4,1193.4 611.7,1192.3 632.9,1191.4 654.2,1190.4 675.3,1189.9 696.4,1188.6 717.7,1186.9 738.8,1186.1 760.1,1185.2 781.3,1183.9 802.4,1183.0 823.7,1182.1 840.0,1181.0 866.0,1177.2 887.3,1174.0 908.3,1170.8 929.5,1167.3 950.8,1164.1 972.1,1160.9 993.0,1156.4 1014.3,1150.7 1035.6,1144.4 1056.8,1138.0 1077.8,1130.2 1099.0,1122.0 1120.3,1112.2 1141.6,1103.9 1162.5,1096.1 1183.8,1087.9 1205.1,1079.0 1226.3,1066.0 1247.3,1055.7 1268.6,1046.8 1289.8,1039.7 1311.1,1033.6 1332.1,1030.3 1353.3,1029.1 1374.6,1026.3 1395.9,1022.6 1416.8,1019.6 1438.1,1015.7 1459.4,1010.4 1480.6,1004.1 1501.6,997.8 1522.9,992.1 1544.1,986.2 1565.4,978.7 1586.3,970.5 1607.6,962.9 1628.9,956.3 1650.2,950.9 1671.1,943.2 1692.4,935.5 1713.7,930.8 1734.9,923.4 1755.9,917.2 1777.1,908.0 1798.4,899.5 1819.7,892.7 1840.6,888.7 1861.9,883.5 1883.2,878.6 1904.4,872.5 1925.4,867.0 1946.7,862.0 1967.9,858.2 1989.2,855.5 2010.2,851.7 2031.4,848.0 2052.7,845.3 2074.0,842.2 2094.9,838.3 2116.2,833.4 2137.5,828.6 2158.7,823.8 2179.7,819.3 2201.0,813.5 2222.2,805.8 2243.5,798.4 2264.4,791.6 2285.7,785.9 2307.0,778.5 2328.3,768.7 2349.2,759.7 2370.5,750.5 2391.7,737.9 2420.0,722.8 2476.7,701.0 2517.6,691.8 2558.4,681.9 2584.0,672.2 2624.9,657.1 2667.0,634.5"/>
<line x1="2666" y1="311.4" x2="3086" y2="311.4" stroke="#e040fb" stroke-width="4" stroke-dasharray="4 8"/>
<line x1="2604" y1="511.2" x2="3086" y2="511.2" stroke="#e040fb" stroke-width="4" stroke-dasharray="4 8"/>
<g stroke="#000" stroke-width="2" shape-rendering="crispEdges">
<rect x="11" y="1163" width="14" height="3" fill="#d6d8e1" fill-opacity="0.72"/>
<line x1="39" y1="1151" x2="39" y2="1155"/>
<line x1="39" y1="1161" x2="39" y2="1186"/>
<rect x="32" y="1156" width="14" height="4" fill="#d6d8e1" fill-opacity="0.72"/>
<line x1="61" y1="1141" x2="61" y2="1144"/>
<line x1="61" y1="1155" x2="61" y2="1180"/>
<rect x="54" y="1145" width="14" height="9" fill="#d6d8e1" fill-opacity="0.72"/>
<line x1="82" y1="1126" x2="82" y2="1143"/>
<line x1="82" y1="1154" x2="82" y2="1163"/>
<rect x="74" y="1143" width="16" height="11" fill="#000" stroke="none"/>
<line x1="103" y1="1130" x2="103" y2="1149"/>
<line x1="103" y1="1154" x2="103" y2="1155"/>
<rect x="96" y="1150" width="14" height="3" fill="#d6d8e1" fill-opacity="0.72"/>
<line x1="124" y1="1132" x2="124" y2="1149"/>
<line x1="124" y1="1220" x2="124" y2="1239"/>
<rect x="116" y="1149" width="16" height="71" fill="#000" stroke="none"/>
<line x1="145" y1="1176" x2="145" y2="1198"/>
<line x1="145" y1="1219" x2="145" y2="1229"/>
<rect x="138" y="1199" width="14" height="19" fill="#d6d8e1" fill-opacity="0.72"/>
<line x1="166" y1="1171" x2="166" y2="1179"/>
<line x1="166" y1="1197" x2="166" y2="1204"/>
<rect x="159" y="1180" width="14" height="16" fill="#d6d8e1" fill-opacity="0.72"/>
<line x1="188" y1="1165" x2="188" y2="1175"/>
<line x1="188" y1="1179" x2="188" y2="1188"/>
<rect x="180" y="1175" width="16" height="4" fill="#000" stroke="none"/>
<line x1="209" y1="1139" x2="209" y2="1145"/>
<line x1="209" y1="1176" x2="209" y2="1185"/>
<rect x="202" y="1146" width="14" height="29" fill="#d6d8e1" fill-opacity="0.72"/>
<line x1="230" y1="1125" x2="230" y2="1126"/>
<line x1="230" y1="1144" x2="230" y2="1163"/>
<rect x="223" y="1127" width="14" height="16" fill="#d6d8e1" fill-opacity="0.72"/>
<line x1="251" y1="1123" x2="251" y2="1126"/>
<line x1="251" y1="1141" x2="251" y2="1152"/>
<rect x="243" y="1126" width="16" height="15" fill="#000" stroke="none"/>
<line x1="272" y1="1134" x2="272" y2="1140"/>
<line x1="272" y1="1170" x2="272" y2="1175"/>
<rect x="264" y="1140" width="16" height="30" fill="#000" stroke="none"/>
<line x1="294" y1="1158" x2="294" y2="1166"/>
<line x1="294" y1="1168" x2="294" y2="1206"/>
<rect x="286" y="1166" width="16" height="2" fill="#000" stroke="none"/>
<line x1="315" y1="1191" x2="315" y2="1206"/>
<rect x="307" y="1167" width="16" height="24" fill="#000" stroke="none"/>
<line x1="336" y1="1175" x2="336" y2="1185"/>
<line x1="336" y1="1191" x2="336" y2="1197"/>
<rect x="329" y="1186" width="14" height="4" fill="#d6d8e1" fill-opacity="0.72"/>
<line x1="357" y1="1158" x2="357" y2="1179"/>
<line x1="357" y1="1185" x2="357" y2="1189"/>
<rect x="350" y="1180" width="14" height="4" fill="#d6d8e1" fill-opacity="0.72"/>
<line x1="378" y1="1159" x2="378" y2="1178"/>
<line x1="378" y1="1185" x2="378" y2="1203"/>
<rect x="370" y="1178" width="16" height="7" fill="#000" stroke="none"/>
<line x1="400" y1="1170" x2="400" y2="1184"/>
<line x1="400" y1="1193" x2="400" y2="1210"/>
<rect x="392" y="1184" width="16" height="9" fill="#000" stroke="none"/>
<line x1="421" y1="1188" x2="421" y2="1191"/>
<line x1="421" y1="1193" x2="421" y2="1207"/>
<rect x="413" y="1191" width="16" height="2" fill="#000" stroke="none"/>
<line x1="442" y1="1178" x2="442" y2="1193"/>
<line x1="442" y1="1201" x2="442" y2="1208"/>
<rect x="434" y="1193" width="16" height="8" fill="#000" stroke="none"/>
<line x1="463" y1="1192" x2="463" y2="1200"/>
<line x1="463" y1="1231" x2="463" y2="1247"/>
<rect x="455" y="1200" width="16" height="31" fill="#000" stroke="none"/>
<line x1="484" y1="1214" x2="484" y2="1230"/>
<line x1="484" y1="1263" x2="484" y2="1299"/>
<rect x="476" y="1230" width="16" height="33" fill="#000" stroke="none"/>
<line x1="506" y1="1197" x2="506" y2="1202"/>
<line x1="506" y1="1262" x2="506" y2="1265"/>
<rect x="499" y="1203" width="14" height="58" fill="#d6d8e1" fill-opacity="0.72"/>
<line x1="527" y1="1194" x2="527" y2="1195"/>
<line x1="527" y1="1202" x2="527" y2="1213"/>
<rect x="520" y="1196" width="14" height="5" fill="#d6d8e1" fill-opacity="0.72"/>
<line x1="548" y1="1174" x2="548" y2="1189"/>
<line x1="548" y1="1195" x2="548" y2="1199"/>
<rect x="541" y="1190" width="14" height="4" fill="#d6d8e1" fill-opacity="0.72"/>
<line x1="569" y1="1180" x2="569" y2="1189"/>
<line x1="569" y1="1199" x2="569" y2="1201"/>
<rect x="561" y="1189" width="16" height="10" fill="#000" stroke="none"/>
<line x1="590" y1="1184" x2="590" y2="1190"/>
<line x1="590" y1="1199" x2="590" y2="1206"/>
<rect x="583" y="1191" width="14" height="7" fill="#d6d8e1" fill-opacity="0.72"/>
<line x1="612" y1="1182" x2="612" y2="1184"/>
<line x1="612" y1="1191" x2="612" y2="1193"/>
<rect x="605" y="1185" width="14" height="5" fill="#d6d8e1" fill-opacity="0.72"/>
<line x1="633" y1="1166" x2="633" y2="1168"/>
<line x1="633" y1="1183" x2="633" y2="1188"/>
<rect x="626" y="1169" width="14" height="13" fill="#d6d8e1" fill-opacity="0.72"/>
<line x1="654" y1="1157" x2="654" y2="1165"/>
<line x1="654" y1="1170" x2="654" y2="1177"/>
<rect x="647" y="1166" width="14" height="3" fill="#d6d8e1" fill-opacity="0.72"/>
<line x1="675" y1="1159" x2="675" y2="1164"/>
<line x1="675" y1="1190" x2="675" y2="1194"/>
<rect x="667" y="1164" width="16" height="26" fill="#000" stroke="none"/>
<line x1="696" y1="1146" x2="696" y2="1157"/>
<line x1="696" y1="1189" x2="696" y2="1195"/>
<rect x="689" y="1158" width="14" height="30" fill="#d6d8e1" fill-opacity="0.72"/>
<line x1="717" y1="1146" x2="717" y2="1148"/>
<line x1="717" y1="1158" x2="717" y2="1164"/>
<rect x="710" y="1149" width="14" height="8" fill="#d6d8e1" fill-opacity="0.72"/>
<line x1="739" y1="1147" x2="739" y2="1148"/>
<line x1="739" y1="1173" x2="739" y2="1179"/>
<rect x="731" y="1148" width="16" height="25" fill="#000" stroke="none"/>
<line x1="760" y1="1164" x2="760" y2="1166"/>
<line x1="760" y1="1173" x2="760" y2="1175"/>
<rect x="753" y="1167" width="14" height="5" fill="#d6d8e1" fill-opacity="0.72"/>
<line x1="781" y1="1145" x2="781" y2="1149"/>
<line x1="781" y1="1166" x2="781" y2="1172"/>
<rect x="774" y="1150" width="14" height="15" fill="#d6d8e1" fill-opacity="0.72"/>
<line x1="802" y1="1155" x2="802" y2="1164"/>
<rect x="794" y="1149" width="16" height="6" fill="#000" stroke="none"/>
<line x1="823" y1="1151" x2="823" y2="1153"/>
<line x1="823" y1="1155" x2="823" y2="1163"/>
<rect x="815" y="1153" width="16" height="2" fill="#000" stroke="none"/>
<line x1="845" y1="1130" x2="845" y2="1137"/>
<line x1="845" y1="1155" x2="845" y2="1159"/>
<rect x="838" y="1138" width="14" height="16" fill="#d6d8e1" fill-opacity="0.72"/>
<line x1="866" y1="1094" x2="866" y2="1099"/>
<line x1="866" y1="1137" x2="866" y2="1140"/>
<rect x="859" y="1100" width="14" height="36" fill="#d6d8e1" fill-opacity="0.72"/>
<line x1="887" y1="1073" x2="887" y2="1089"/>
<line x1="887" y1="1098" x2="887" y2="1105"/>
<rect x="880" y="1090" width="14" height="7" fill="#d6d8e1" fill-opacity="0.72"/>
<line x1="908" y1="1074" x2="908" y2="1089"/>
<line x1="908" y1="1099" x2="908" y2="1112"/>
<rect x="900" y="1089" width="16" height="10" fill="#000" stroke="none"/>
<line x1="929" y1="1080" x2="929" y2="1085"/>
<line x1="929" y1="1098" x2="929" y2="1100"/>
<rect x="922" y="1086" width="14" height="11" fill="#d6d8e1" fill-opacity="0.72"/>
<line x1="951" y1="1051" x2="951" y2="1085"/>
<line x1="951" y1="1092" x2="951" y2="1098"/>
<rect x="943" y="1085" width="16" height="7" fill="#000" stroke="none"/>
<line x1="972" y1="1082" x2="972" y2="1088"/>
<line x1="972" y1="1090" x2="972" y2="1120"/>
<rect x="964" y="1088" width="16" height="2" fill="#000" stroke="none"/>
<line x1="993" y1="1034" x2="993" y2="1049"/>
<line x1="993" y1="1089" x2="993" y2="1100"/>
<rect x="986" y="1050" width="14" height="38" fill="#d6d8e1" fill-opacity="0.72"/>
<line x1="1014" y1="1008" x2="1014" y2="1024"/>
<line x1="1014" y1="1049" x2="1014" y2="1054"/>
<rect x="1007" y="1025" width="14" height="23" fill="#d6d8e1" fill-opacity="0.72"/>
<line x1="1035" y1="931" x2="1035" y2="1004"/>
<line x1="1035" y1="1023" x2="1035" y2="1027"/>
<rect x="1028" y="1005" width="14" height="17" fill="#d6d8e1" fill-opacity="0.72"/>
<line x1="1057" y1="977" x2="1057" y2="998"/>
<line x1="1057" y1="1003" x2="1057" y2="1027"/>
<rect x="1050" y="999" width="14" height="3" fill="#d6d8e1" fill-opacity="0.72"/>
<line x1="1078" y1="939" x2="1078" y2="948"/>
<line x1="1078" y1="997" x2="1078" y2="1000"/>
<rect x="1071" y="949" width="14" height="47" fill="#d6d8e1" fill-opacity="0.72"/>
<line x1="1099" y1="899" x2="1099" y2="930"/>
<line x1="1099" y1="948" x2="1099" y2="970"/>
<rect x="1092" y="931" width="14" height="16" fill="#d6d8e1" fill-opacity="0.72"/>
<line x1="1120" y1="886" x2="1120" y2="889"/>
<line x1="1120" y1="930" x2="1120" y2="972"/>
<rect x="1113" y="890" width="14" height="39" fill="#d6d8e1" fill-opacity="0.72"/>
<line x1="1141" y1="845" x2="1141" y2="889"/>
<line x1="1141" y1="909" x2="1141" y2="957"/>
<rect x="1133" y="889" width="16" height="20" fill="#000" stroke="none"/>
<line x1="1162" y1="891" x2="1162" y2="909"/>
<line x1="1162" y1="922" x2="1162" y2="977"/>
<rect x="1154" y="909" width="16" height="13" fill="#000" stroke="none"/>
<line x1="1184" y1="891" x2="1184" y2="893"/>
<line x1="1184" y1="921" x2="1184" y2="958"/>
<rect x="1177" y="894" width="14" height="26" fill="#d6d8e1" fill-opacity="0.72"/>
<line x1="1205" y1="868" x2="1205" y2="877"/>
<line x1="1205" y1="893" x2="1205" y2="906"/>
<rect x="1198" y="878" width="14" height="14" fill="#d6d8e1" fill-opacity="0.72"/>
<line x1="1226" y1="777" x2="1226" y2="783"/>
<line x1="1226" y1="877" x2="1226" y2="881"/>
<rect x="1219" y="784" width="14" height="92" fill="#d6d8e1" fill-opacity="0.72"/>
<line x1="1247" y1="752" x2="1247" y2="782"/>
<line x1="1247" y1="820" x2="1247" y2="825"/>
<rect x="1239" y="782" width="16" height="38" fill="#000" stroke="none"/>
<line x1="1268" y1="799" x2="1268" y2="819"/>
<line x1="1268" y1="855" x2="1268" y2="864"/>
<rect x="1260" y="819" width="16" height="36" fill="#000" stroke="none"/>
<line x1="1290" y1="842" x2="1290" y2="854"/>
<line x1="1290" y1="877" x2="1290" y2="930"/>
<rect x="1282" y="854" width="16" height="23" fill="#000" stroke="none"/>
<line x1="1311" y1="836" x2="1311" y2="876"/>
<line x1="1311" y1="897" x2="1311" y2="900"/>
<rect x="1303" y="876" width="16" height="21" fill="#000" stroke="none"/>
<line x1="1332" y1="873" x2="1332" y2="896"/>
<line x1="1332" y1="949" x2="1332" y2="973"/>
<rect x="1324" y="896" width="16" height="53" fill="#000" stroke="none"/>
<line x1="1353" y1="922" x2="1353" y2="948"/>
<line x1="1353" y1="991" x2="1353" y2="998"/>
<rect x="1345" y="948" width="16" height="43" fill="#000" stroke="none"/>
<line x1="1374" y1="951" x2="1374" y2="960"/>
<line x1="1374" y1="990" x2="1374" y2="1003"/>
<rect x="1367" y="961" width="14" height="28" fill="#d6d8e1" fill-opacity="0.72"/>
<line x1="1396" y1="922" x2="1396" y2="925"/>
<rect x="1389" y="926" width="14" height="33" fill="#d6d8e1" fill-opacity="0.72"/>
<line x1="1417" y1="923" x2="1417" y2="925"/>
<line x1="1417" y1="953" x2="1417" y2="972"/>
<rect x="1409" y="925" width="16" height="28" fill="#000" stroke="none"/>
<line x1="1438" y1="913" x2="1438" y2="924"/>
<line x1="1438" y1="952" x2="1438" y2="970"/>
<rect x="1431" y="925" width="14" height="26" fill="#d6d8e1" fill-opacity="0.72"/>
<line x1="1459" y1="923" x2="1459" y2="934"/>
<rect x="1452" y="887" width="14" height="35" fill="#d6d8e1" fill-opacity="0.72"/>
<line x1="1480" y1="867" x2="1480" y2="876"/>
<line x1="1480" y1="886" x2="1480" y2="901"/>
<rect x="1473" y="877" width="14" height="8" fill="#d6d8e1" fill-opacity="0.72"/>
<line x1="1502" y1="827" x2="1502" y2="867"/>
<line x1="1502" y1="876" x2="1502" y2="878"/>
<rect x="1495" y="868" width="14" height="7" fill="#d6d8e1" fill-opacity="0.72"/>
<line x1="1523" y1="835" x2="1523" y2="850"/>
<line x1="1523" y1="866" x2="1523" y2="876"/>
<rect x="1516" y="851" width="14" height="14" fill="#d6d8e1" fill-opacity="0.72"/>
<line x1="1544" y1="812" x2="1544" y2="850"/>
<line x1="1544" y1="855" x2="1544" y2="879"/>
<rect x="1536" y="850" width="16" height="5" fill="#000" stroke="none"/>
<line x1="1565" y1="790" x2="1565" y2="804"/>
<line x1="1565" y1="854" x2="1565" y2="868"/>
<rect x="1558" y="805" width="14" height="48" fill="#d6d8e1" fill-opacity="0.72"/>
<line x1="1586" y1="756" x2="1586" y2="775"/>
<line x1="1586" y1="803" x2="1586" y2="811"/>
<rect x="1579" y="776" width="14" height="26" fill="#d6d8e1" fill-opacity="0.72"/>
<line x1="1608" y1="737" x2="1608" y2="775"/>
<line x1="1608" y1="790" x2="1608" y2="825"/>
<rect x="1600" y="775" width="16" height="15" fill="#000" stroke="none"/>
<line x1="1629" y1="765" x2="1629" y2="789"/>
<line x1="1629" y1="813" x2="1629" y2="840"/>
<rect x="1621" y="789" width="16" height="24" fill="#000" stroke="none"/>
<line x1="1650" y1="790" x2="1650" y2="793"/>
<line x1="1650" y1="812" x2="1650" y2="817"/>
<rect x="1643" y="794" width="14" height="17" fill="#d6d8e1" fill-opacity="0.72"/>
<line x1="1671" y1="747" x2="1671" y2="763"/>
<rect x="1664" y="764" width="14" height="27" fill="#d6d8e1" fill-opacity="0.72"/>
<line x1="1692" y1="757" x2="1692" y2="762"/>
<line x1="1692" y1="778" x2="1692" y2="817"/>
<rect x="1684" y="762" width="16" height="16" fill="#000" stroke="none"/>
<line x1="1713" y1="768" x2="1713" y2="777"/>
<line x1="1713" y1="820" x2="1713" y2="821"/>
<rect x="1705" y="777" width="16" height="43" fill="#000" stroke="none"/>
<line x1="1735" y1="717" x2="1735" y2="739"/>
<line x1="1735" y1="819" x2="1735" y2="829"/>
<rect x="1728" y="740" width="14" height="78" fill="#d6d8e1" fill-opacity="0.72"/>
<line x1="1756" y1="712" x2="1756" y2="738"/>
<line x1="1756" y1="792" x2="1756" y2="802"/>
<rect x="1748" y="738" width="16" height="54" fill="#000" stroke="none"/>
<rect x="1770" y="685" width="14" height="105" fill="#d6d8e1" fill-opacity="0.72"/>
<line x1="1798" y1="719" x2="1798" y2="727"/>
<rect x="1790" y="684" width="16" height="35" fill="#000" stroke="none"/>
<line x1="1819" y1="707" x2="1819" y2="718"/>
<line x1="1819" y1="726" x2="1819" y2="755"/>
<rect x="1811" y="718" width="16" height="8" fill="#000" stroke="none"/>
<line x1="1841" y1="718" x2="1841" y2="725"/>
<line x1="1841" y1="792" x2="1841" y2="803"/>
<rect x="1833" y="725" width="16" height="67" fill="#000" stroke="none"/>
<line x1="1862" y1="740" x2="1862" y2="748"/>
<line x1="1862" y1="791" x2="1862" y2="809"/>
<rect x="1855" y="749" width="14" height="41" fill="#d6d8e1" fill-opacity="0.72"/>
<line x1="1883" y1="741" x2="1883" y2="747"/>
<line x1="1883" y1="763" x2="1883" y2="767"/>
<rect x="1875" y="747" width="16" height="16" fill="#000" stroke="none"/>
<line x1="1904" y1="717" x2="1904" y2="731"/>
<line x1="1904" y1="762" x2="1904" y2="770"/>
<rect x="1897" y="732" width="14" height="29" fill="#d6d8e1" fill-opacity="0.72"/>
<line x1="1925" y1="722" x2="1925" y2="730"/>
<line x1="1925" y1="751" x2="1925" y2="771"/>
<rect x="1917" y="730" width="16" height="21" fill="#000" stroke="none"/>
<line x1="1947" y1="747" x2="1947" y2="749"/>
<line x1="1947" y1="751" x2="1947" y2="769"/>
<rect x="1939" y="749" width="16" height="2" fill="#000" stroke="none"/>
<line x1="1968" y1="740" x2="1968" y2="750"/>
<rect x="1960" y="750" width="16" height="9" fill="#000" stroke="none"/>
<line x1="1989" y1="738" x2="1989" y2="758"/>
<line x1="1989" y1="779" x2="1989" y2="790"/>
<rect x="1981" y="758" width="16" height="21" fill="#000" stroke="none"/>
<line x1="2010" y1="760" x2="2010" y2="768"/>
<line x1="2010" y1="779" x2="2010" y2="788"/>
<rect x="2003" y="769" width="14" height="9" fill="#d6d8e1" fill-opacity="0.72"/>
<line x1="2031" y1="747" x2="2031" y2="763"/>
<line x1="2031" y1="768" x2="2031" y2="773"/>
<rect x="2024" y="764" width="14" height="3" fill="#d6d8e1" fill-opacity="0.72"/>
<line x1="2053" y1="760" x2="2053" y2="763"/>
<line x1="2053" y1="783" x2="2053" y2="788"/>
<rect x="2045" y="763" width="16" height="20" fill="#000" stroke="none"/>
<line x1="2074" y1="758" x2="2074" y2="772"/>
<line x1="2074" y1="783" x2="2074" y2="785"/>
<rect x="2067" y="773" width="14" height="9" fill="#d6d8e1" fill-opacity="0.72"/>
<line x1="2095" y1="745" x2="2095" y2="753"/>
<rect x="2088" y="754" width="14" height="16" fill="#d6d8e1" fill-opacity="0.72"/>
<line x1="2116" y1="712" x2="2116" y2="719"/>
<rect x="2109" y="720" width="14" height="31" fill="#d6d8e1" fill-opacity="0.72"/>
<line x1="2137" y1="709" x2="2137" y2="719"/>
<line x1="2137" y1="723" x2="2137" y2="735"/>
<rect x="2129" y="719" width="16" height="4" fill="#000" stroke="none"/>
<line x1="2159" y1="711" x2="2159" y2="719"/>
<line x1="2159" y1="723" x2="2159" y2="734"/>
<rect x="2151" y="719" width="16" height="4" fill="#000" stroke="none"/>
<line x1="2180" y1="672" x2="2180" y2="695"/>
<line x1="2180" y1="719" x2="2180" y2="724"/>
<rect x="2173" y="696" width="14" height="22" fill="#d6d8e1" fill-opacity="0.72"/>
<line x1="2201" y1="677" x2="2201" y2="680"/>
<line x1="2201" y1="695" x2="2201" y2="704"/>
<rect x="2194" y="681" width="14" height="13" fill="#d6d8e1" fill-opacity="0.72"/>
<line x1="2222" y1="635" x2="2222" y2="643"/>
<line x1="2222" y1="680" x2="2222" y2="682"/>
<rect x="2215" y="644" width="14" height="35" fill="#d6d8e1" fill-opacity="0.72"/>
<line x1="2243" y1="612" x2="2243" y2="630"/>
<line x1="2243" y1="643" x2="2243" y2="648"/>
<rect x="2236" y="631" width="14" height="11" fill="#d6d8e1" fill-opacity="0.72"/>
<line x1="2264" y1="611" x2="2264" y2="629"/>
<line x1="2264" y1="642" x2="2264" y2="648"/>
<rect x="2256" y="629" width="16" height="13" fill="#000" stroke="none"/>
<line x1="2286" y1="625" x2="2286" y2="641"/>
<line x1="2286" y1="653" x2="2286" y2="667"/>
<rect x="2278" y="641" width="16" height="12" fill="#000" stroke="none"/>
<line x1="2307" y1="588" x2="2307" y2="593"/>
<line x1="2307" y1="652" x2="2307" y2="657"/>
<rect x="2300" y="594" width="14" height="57" fill="#d6d8e1" fill-opacity="0.72"/>
<line x1="2328" y1="531" x2="2328" y2="541"/>
<line x1="2328" y1="593" x2="2328" y2="609"/>
<rect x="2321" y="542" width="14" height="50" fill="#d6d8e1" fill-opacity="0.72"/>
<line x1="2349" y1="514" x2="2349" y2="540"/>
<line x1="2349" y1="554" x2="2349" y2="556"/>
<rect x="2341" y="540" width="16" height="14" fill="#000" stroke="none"/>
<line x1="2370" y1="520" x2="2370" y2="549"/>
<line x1="2370" y1="554" x2="2370" y2="565"/>
<rect x="2363" y="550" width="14" height="3" fill="#d6d8e1" fill-opacity="0.72"/>
<line x1="2392" y1="453" x2="2392" y2="459"/>
<line x1="2392" y1="549" x2="2392" y2="551"/>
<rect x="2385" y="460" width="14" height="88" fill="#d6d8e1" fill-opacity="0.72"/>
<line x1="2413" y1="402" x2="2413" y2="454"/>
<line x1="2413" y1="459" x2="2413" y2="466"/>
<rect x="2406" y="455" width="14" height="3" fill="#d6d8e1" fill-opacity="0.72"/>
<line x1="2434" y1="449" x2="2434" y2="453"/>
<line x1="2434" y1="536" x2="2434" y2="560"/>
<rect x="2426" y="453" width="16" height="83" fill="#000" stroke="none"/>
<line x1="2455" y1="483" x2="2455" y2="501"/>
<line x1="2455" y1="535" x2="2455" y2="583"/>
<rect x="2448" y="502" width="14" height="32" fill="#d6d8e1" fill-opacity="0.72"/>
<line x1="2476" y1="473" x2="2476" y2="497"/>
<line x1="2476" y1="502" x2="2476" y2="537"/>
<rect x="2469" y="498" width="14" height="3" fill="#d6d8e1" fill-opacity="0.72"/>
<line x1="2498" y1="494" x2="2498" y2="496"/>
<line x1="2498" y1="610" x2="2498" y2="619"/>
<rect x="2490" y="496" width="16" height="114" fill="#000" stroke="none"/>
<line x1="2519" y1="577" x2="2519" y2="586"/>
<line x1="2519" y1="609" x2="2519" y2="632"/>
<rect x="2512" y="587" width="14" height="21" fill="#d6d8e1" fill-opacity="0.72"/>
<line x1="2540" y1="546" x2="2540" y2="574"/>
<line x1="2540" y1="585" x2="2540" y2="594"/>
<rect x="2533" y="575" width="14" height="9" fill="#d6d8e1" fill-opacity="0.72"/>
<line x1="2561" y1="534" x2="2561" y2="535"/>
<line x1="2561" y1="573" x2="2561" y2="582"/>
<rect x="2554" y="536" width="14" height="36" fill="#d6d8e1" fill-opacity="0.72"/>
<line x1="2582" y1="471" x2="2582" y2="481"/>
<line x1="2582" y1="535" x2="2582" y2="538"/>
<rect x="2575" y="482" width="14" height="52" fill="#d6d8e1" fill-opacity="0.72"/>
<line x1="2604" y1="473" x2="2604" y2="480"/>
<line x1="2604" y1="512" x2="2604" y2="535"/>
<rect x="2596" y="480" width="16" height="32" fill="#000" stroke="none"/>
<line x1="2625" y1="470" x2="2625" y2="486"/>
<line x1="2625" y1="511" x2="2625" y2="519"/>
<rect x="2618" y="487" width="14" height="23" fill="#d6d8e1" fill-opacity="0.72"/>
<line x1="2646" y1="380" x2="2646" y2="393"/>
<line x1="2646" y1="485" x2="2646" y2="491"/>
<rect x="2639" y="394" width="14" height="90" fill="#d6d8e1" fill-opacity="0.72"/>
<line x1="2667" y1="362" x2="2667" y2="366"/>
<line x1="2667" y1="393" x2="2667" y2="401"/>
<rect x="2660" y="367" width="14" height="25" fill="#d6d8e1" fill-opacity="0.72"/>
</g>
<line x1="124" y1="1131.5" x2="2816.2" y2="271.6" stroke="#000" stroke-width="2"/>
<line x1="505.7" y1="1264.2" x2="2816.2" y2="556" stroke="#000" stroke-width="2"/>
</g>
<text x="35.29" y="94.0" font-size="23.2" fill="#131722" textLength="435.10" lengthAdjust="spacingAndGlyphs">Binance Coin / TetherUS · 1D · Binance</text>
<text x="482.93" y="94.0" font-size="23.2" fill="#131722" textLength="115.72" lengthAdjust="spacingAndGlyphs">O1,090.22</text>
<text x="612.28" y="94.0" font-size="23.2" fill="#131722" textLength="108.04" lengthAdjust="spacingAndGlyphs">H1,112.68</text>
<text x="733.14" y="94.0" font-size="23.2" fill="#131722" textLength="111.93" lengthAdjust="spacingAndGlyphs">L1,084.02</text>
<text x="858.18" y="94.0" font-size="23.2" fill="#131722" textLength="110.88" lengthAdjust="spacingAndGlyphs">C1,109.53</text>
<text x="983.02" y="94.0" font-size="23.2" fill="#131722" textLength="179.67" lengthAdjust="spacingAndGlyphs">+19.31 (+1.77%)</text>
<text x="35.20" y="127.5" font-size="23.2" fill="#131722" textLength="226.10" lengthAdjust="spacingAndGlyphs">EMA 20/50/100/200</text>
<text x="275.12" y="127.5" font-size="23.2" fill="#ff6d00" textLength="77.32" lengthAdjust="spacingAndGlyphs">930.01</text>
<text x="365.36" y="127.5" font-size="23.2" fill="#00ffff" textLength="80.19" lengthAdjust="spacingAndGlyphs">854.73</text>
<text x="457.89" y="127.5" font-size="23.2" fill="#0000ff" textLength="78.21" lengthAdjust="spacingAndGlyphs">774.30</text>
<text x="35.20" y="161.5" font-size="23.2" fill="#131722" textLength="69.83" lengthAdjust="spacingAndGlyphs">Pivots</text>
<text x="34.84" y="1359.8" font-size="23.2" fill="#131722" textLength="39.87" lengthAdjust="spacingAndGlyphs">RSI</text>
<text x="86.90" y="1359.8" font-size="23.2" fill="#7e57c2" textLength="63.52" lengthAdjust="spacingAndGlyphs">70.53</text>
<text x="163.64" y="1359.8" font-size="23.2" fill="#fdd835" textLength="66.83" lengthAdjust="spacingAndGlyphs">64.26</text>
<text x="34.78" y="1579.7" font-size="23.2" fill="#131722" textLength="72.39" lengthAdjust="spacingAndGlyphs">MACD</text>
<text x="119.97" y="1579.7" font-size="23.2" fill="#26a69a" textLength="51.14" lengthAdjust="spacingAndGlyphs">6.65</text>
<text x="184.91" y="1579.7" font-size="23.2" fill="#2962ff" textLength="63.97" lengthAdjust="spacingAndGlyphs">42.07</text>
<text x="262.41" y="1579.7" font-size="23.2" fill="#f23645" textLength="65.00" lengthAdjust="spacingAndGlyphs">35.42</text>
<g shape-rendering="crispEdges">
<rect x="19" y="53" width="3212" height="4" fill="#f5f5f6"/>
<rect x="19" y="53" width="2" height="1720" fill="#f4f4f5"/>
<rect x="3229" y="53" width="2" height="1720" fill="#f4f4f5"/>
<rect x="19" y="1771" width="3212" height="2" fill="#f2f2f4"/>
<rect x="21" y="1318" width="3208" height="2" fill="#e0e3eb"/>
<rect x="21" y="1538" width="3208" height="2" fill="#e0e3eb"/>
<rect x="21" y="1716" width="3208" height="2" fill="#f6f6f7"/>
<rect x="3086" y="57" width="2" height="1714" fill="#f8f8f9"/>
</g>
<g clip-path="url(#cpAxMain)">
<text x="3104.6" y="155.2" font-size="24" fill="#131722" textLength="103.5" lengthAdjust="spacingAndGlyphs">1,280.00</text>
<text x="3104.6" y="253.4" font-size="24" fill="#131722" textLength="103.5" lengthAdjust="spacingAndGlyphs">1,200.00</text>
<text x="3104.6" y="358.4" font-size="24" fill="#131722" textLength="103.5" lengthAdjust="spacingAndGlyphs">1,120.00</text>
<text x="3104.6" y="427.9" font-size="24" fill="#131722" textLength="103.5" lengthAdjust="spacingAndGlyphs">1,070.00</text>
<text x="3104.6" y="500.7" font-size="24" fill="#131722" textLength="103.5" lengthAdjust="spacingAndGlyphs">1,020.00</text>
<text x="3104.6" y="577.2" font-size="24" fill="#131722" textLength="81.1" lengthAdjust="spacingAndGlyphs">970.00</text>
<text x="3104.6" y="708.2" font-size="24" fill="#131722" textLength="81.1" lengthAdjust="spacingAndGlyphs">890.00</text>
<text x="3104.6" y="851.6" font-size="24" fill="#131722" textLength="81.1" lengthAdjust="spacingAndGlyphs">810.00</text>
<text x="3104.6" y="989.1" font-size="24" fill="#131722" textLength="81.1" lengthAdjust="spacingAndGlyphs">740.00</text>
<text x="3104.6" y="1052.1" font-size="24" fill="#131722" textLength="81.1" lengthAdjust="spacingAndGlyphs">710.00</text>
<text x="3104.6" y="1117.8" font-size="24" fill="#131722" textLength="81.1" lengthAdjust="spacingAndGlyphs">680.00</text>
<text x="3104.6" y="1186.5" font-size="24" fill="#131722" textLength="81.1" lengthAdjust="spacingAndGlyphs">650.00</text>
<text x="3104.6" y="1253.5" font-size="24" fill="#131722" textLength="81.1" lengthAdjust="spacingAndGlyphs">622.00</text>
<text x="3104.6" y="1318.5" font-size="24" fill="#131722" textLength="81.1" lengthAdjust="spacingAndGlyphs">596.00</text>
</g>
<text x="3104.6" y="1369.8" font-size="24" fill="#131722" textLength="66.5" lengthAdjust="spacingAndGlyphs">80.00</text>
<text x="3104.6" y="1495.9" font-size="24" fill="#131722" textLength="66.5" lengthAdjust="spacingAndGlyphs">40.00</text>
<text x="3104.6" y="1619.4" font-size="24" fill="#131722" textLength="66.5" lengthAdjust="spacingAndGlyphs">25.00</text>
<text x="3104.6" y="1686.6" font-size="24" fill="#131722" textLength="50.8" lengthAdjust="spacingAndGlyphs">0.00</text>
<rect x="3094" y="62" width="128" height="52" rx="9" fill="#fff" stroke="#e0e3eb" stroke-width="1.5"/>
<text x="3110.93" y="95.6" font-size="23" fill="#131722" textLength="65.82" lengthAdjust="spacingAndGlyphs">USDT</text>
<g>
<path d="M3088,294.9 h128.4 a4,4 0 0 1 4,4 v26 a4,4 0 0 1 -4,4 h-128.4 z" fill="#d946ef"/>
<text x="3104.6" y="320.0" font-size="24" fill="#fff" textLength="103.5" lengthAdjust="spacingAndGlyphs">1,150.00</text>
</g>
<path d="M3088,348.9 h128 a4,4 0 0 1 4,4 v53.9 a4,4 0 0 1 -4,4 h-128 z" fill="#d1d4dc"/>
<text x="3104.6" y="373.1" font-size="24" fill="#000" textLength="103.5" lengthAdjust="spacingAndGlyphs">1,109.53</text>
<text x="3104.6" y="401.0" font-size="24" fill="#323232" textLength="103.5" lengthAdjust="spacingAndGlyphs">19:42:10</text>
<g>
<path d="M3088,494.7 h128.4 a4,4 0 0 1 4,4 v26 a4,4 0 0 1 -4,4 h-128.4 z" fill="#d946ef"/>
<text x="3104.6" y="519.8" font-size="24" fill="#fff" textLength="103.5" lengthAdjust="spacingAndGlyphs">1,008.51</text>
</g>
<g>
<path d="M3088,618.0 h106.0 a4,4 0 0 1 4,4 v26 a4,4 0 0 1 -4,4 h-106.0 z" fill="#ff8000"/>
<text x="3104.6" y="643.1" font-size="24" fill="#fff" textLength="81.1" lengthAdjust="spacingAndGlyphs">930.01</text>
</g>
<g>
<path d="M3088,746.5 h106.0 a4,4 0 0 1 4,4 v26 a4,4 0 0 1 -4,4 h-106.0 z" fill="#00ffff"/>
<text x="3104.6" y="771.6" font-size="24" fill="#000" textLength="81.1" lengthAdjust="spacingAndGlyphs">854.73</text>
</g>
<g>
<path d="M3088,896.9 h106.0 a4,4 0 0 1 4,4 v26 a4,4 0 0 1 -4,4 h-106.0 z" fill="#0000ff"/>
<text x="3104.6" y="922.0" font-size="24" fill="#fff" textLength="81.1" lengthAdjust="spacingAndGlyphs">774.30</text>
</g>
<g>
<path d="M3088,1375.4 h91.4 a4,4 0 0 1 4,4 v26 a4,4 0 0 1 -4,4 h-91.4 z" fill="#7e57c2"/>
<text x="3104.6" y="1400.5" font-size="24" fill="#fff" textLength="66.5" lengthAdjust="spacingAndGlyphs">70.53</text>
</g>
<g>
<path d="M3088,1409.4 h91.4 a4,4 0 0 1 4,4 v26 a4,4 0 0 1 -4,4 h-91.4 z" fill="#fdd835"/>
<text x="3104.6" y="1434.5" font-size="24" fill="#000" textLength="66.5" lengthAdjust="spacingAndGlyphs">64.26</text>
</g>
<g clip-path="url(#cpAxMacd)">
<path d="M3088,1533.3 h91.4 a4,4 0 0 1 4,4 v26 a4,4 0 0 1 -4,4 h-91.4 z" fill="#2962ff"/>
<text x="3104.6" y="1558.4" font-size="24" fill="#fff" textLength="66.5" lengthAdjust="spacingAndGlyphs">42.07</text>
</g>
<g>
<path d="M3088,1567.6 h91.4 a4,4 0 0 1 4,4 v26 a4,4 0 0 1 -4,4 h-91.4 z" fill="#f23645"/>
<text x="3104.6" y="1592.7" font-size="24" fill="#fff" textLength="66.5" lengthAdjust="spacingAndGlyphs">35.42</text>
</g>
<g>
<path d="M3088,1643.5 h75.7 a4,4 0 0 1 4,4 v26 a4,4 0 0 1 -4,4 h-75.7 z" fill="#26a69a"/>
<text x="3104.6" y="1668.6" font-size="24" fill="#fff" textLength="50.8" lengthAdjust="spacingAndGlyphs">6.65</text>
</g>
<text x="19.23" y="1754.3" font-size="24" fill="#131722" textLength="43.17" lengthAdjust="spacingAndGlyphs" font-weight="bold">Jun</text>
<text x="136.98" y="1754.3" font-size="23.2" fill="#131722" textLength="16.39" lengthAdjust="spacingAndGlyphs">6</text>
<text x="236.35" y="1754.3" font-size="23.2" fill="#131722" textLength="29.07" lengthAdjust="spacingAndGlyphs">11</text>
<text x="341.34" y="1754.3" font-size="23.2" fill="#131722" textLength="30.83" lengthAdjust="spacingAndGlyphs">16</text>
<text x="448.70" y="1754.3" font-size="23.2" fill="#131722" textLength="28.87" lengthAdjust="spacingAndGlyphs">21</text>
<text x="553.74" y="1754.3" font-size="23.2" fill="#131722" textLength="30.59" lengthAdjust="spacingAndGlyphs">26</text>
<text x="657.11" y="1754.3" font-size="24" fill="#131722" textLength="37.43" lengthAdjust="spacingAndGlyphs" font-weight="bold">Jul</text>
<text x="772.74" y="1754.3" font-size="23.2" fill="#131722" textLength="16.39" lengthAdjust="spacingAndGlyphs">6</text>
<text x="872.11" y="1754.3" font-size="23.2" fill="#131722" textLength="29.07" lengthAdjust="spacingAndGlyphs">11</text>
<text x="977.10" y="1754.3" font-size="23.2" fill="#131722" textLength="30.83" lengthAdjust="spacingAndGlyphs">16</text>
<text x="1084.46" y="1754.3" font-size="23.2" fill="#131722" textLength="28.87" lengthAdjust="spacingAndGlyphs">21</text>
<text x="1189.50" y="1754.3" font-size="23.2" fill="#131722" textLength="30.59" lengthAdjust="spacingAndGlyphs">26</text>
<text x="1308.68" y="1754.3" font-size="24" fill="#131722" textLength="48.38" lengthAdjust="spacingAndGlyphs" font-weight="bold">Aug</text>
<text x="1429.70" y="1754.3" font-size="23.2" fill="#131722" textLength="16.39" lengthAdjust="spacingAndGlyphs">6</text>
<text x="1529.06" y="1754.3" font-size="23.2" fill="#131722" textLength="29.07" lengthAdjust="spacingAndGlyphs">11</text>
<text x="1634.05" y="1754.3" font-size="23.2" fill="#131722" textLength="30.83" lengthAdjust="spacingAndGlyphs">16</text>
<text x="1741.42" y="1754.3" font-size="23.2" fill="#131722" textLength="28.87" lengthAdjust="spacingAndGlyphs">21</text>
<text x="1846.45" y="1754.3" font-size="23.2" fill="#131722" textLength="30.59" lengthAdjust="spacingAndGlyphs">26</text>
<text x="1966.28" y="1754.3" font-size="24" fill="#131722" textLength="46.05" lengthAdjust="spacingAndGlyphs" font-weight="bold">Sep</text>
<text x="2086.65" y="1754.3" font-size="23.2" fill="#131722" textLength="16.39" lengthAdjust="spacingAndGlyphs">6</text>
<text x="2186.01" y="1754.3" font-size="23.2" fill="#131722" textLength="29.07" lengthAdjust="spacingAndGlyphs">11</text>
<text x="2291.00" y="1754.3" font-size="23.2" fill="#131722" textLength="30.83" lengthAdjust="spacingAndGlyphs">16</text>
<text x="2398.37" y="1754.3" font-size="23.2" fill="#131722" textLength="28.87" lengthAdjust="spacingAndGlyphs">21</text>
<text x="2503.40" y="1754.3" font-size="23.2" fill="#131722" textLength="30.59" lengthAdjust="spacingAndGlyphs">26</text>
<text x="2603.97" y="1754.3" font-size="24" fill="#131722" textLength="41.73" lengthAdjust="spacingAndGlyphs" font-weight="bold">Oct</text>
<text x="2722.41" y="1754.3" font-size="23.2" fill="#131722" textLength="16.39" lengthAdjust="spacingAndGlyphs">6</text>
<text x="2821.77" y="1754.3" font-size="23.2" fill="#131722" textLength="29.07" lengthAdjust="spacingAndGlyphs">11</text>
<text x="2926.76" y="1754.3" font-size="23.2" fill="#131722" textLength="30.83" lengthAdjust="spacingAndGlyphs">16</text>
<text x="3034.13" y="1754.3" font-size="23.2" fill="#131722" textLength="28.87" lengthAdjust="spacingAndGlyphs">21</text>
<g fill="#131313">
<path d="M23.8,1816.2 H48 V1845.9 H35.9 V1828.3 H23.8 Z"/>
<circle cx="58.1" cy="1822" r="6"/>
<path d="M69.7,1816.2 H84 L72.1,1845.9 H58.1 Z"/>
</g>
<text x="97.54" y="1845.9" font-size="41.5" fill="#131313" textLength="242.38" lengthAdjust="spacingAndGlyphs" font-weight="bold">TradingView</text>
</svg></body></html>
